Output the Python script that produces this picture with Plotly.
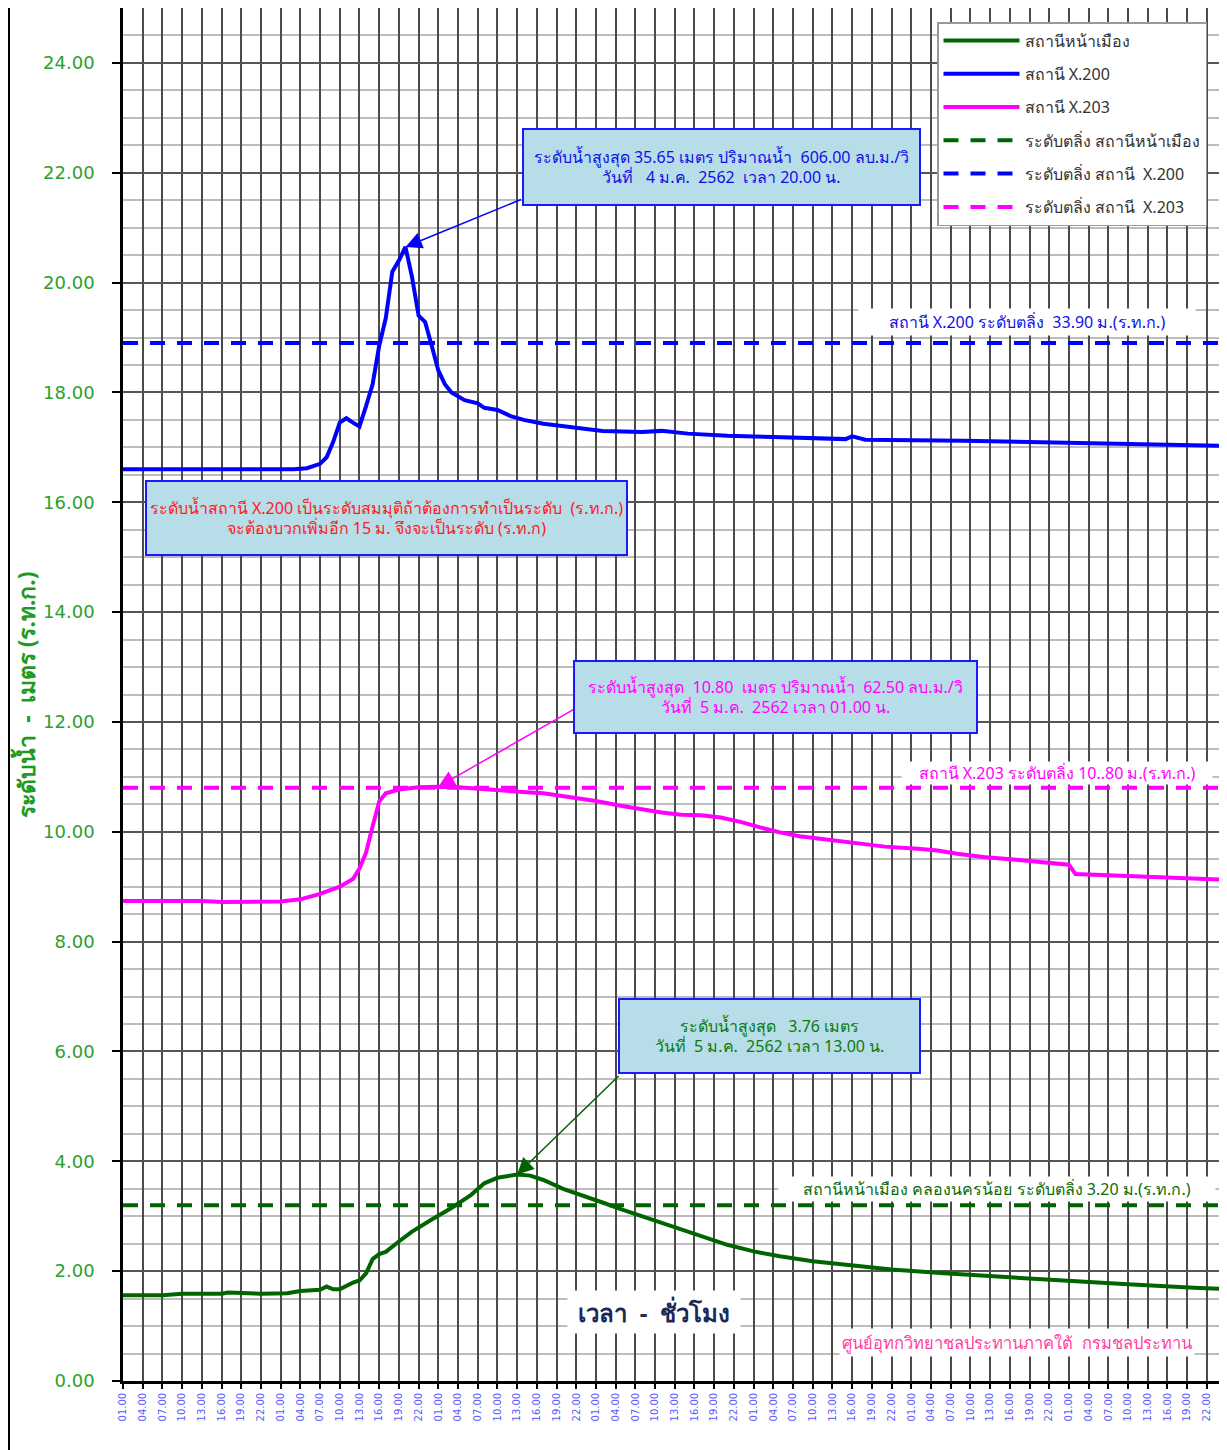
import plotly.graph_objects as go

# ---------------- data ----------------
x200_time = ["2019-01-03 01:00", "2019-01-04 03:00", "2019-01-04 05:00", "2019-01-04 07:00",
             "2019-01-04 08:00", "2019-01-04 09:00", "2019-01-04 10:00", "2019-01-04 11:00",
             "2019-01-04 12:00", "2019-01-04 13:00", "2019-01-04 14:00", "2019-01-04 15:00",
             "2019-01-04 16:00", "2019-01-04 17:00", "2019-01-04 18:00", "2019-01-04 19:00",
             "2019-01-04 20:00", "2019-01-04 21:00", "2019-01-04 22:00", "2019-01-04 23:00",
             "2019-01-05 00:00", "2019-01-05 01:00", "2019-01-05 02:00", "2019-01-05 03:00",
             "2019-01-05 05:00", "2019-01-05 07:00", "2019-01-05 08:00", "2019-01-05 10:00",
             "2019-01-05 12:00", "2019-01-05 14:00", "2019-01-05 17:00", "2019-01-05 21:00",
             "2019-01-06 02:00", "2019-01-06 08:00", "2019-01-06 11:00", "2019-01-06 15:00",
             "2019-01-06 21:00", "2019-01-07 04:00", "2019-01-07 12:00", "2019-01-07 15:00",
             "2019-01-07 16:00", "2019-01-07 18:00", "2019-01-08 09:00", "2019-01-08 20:00",
             "2019-01-09 10:00", "2019-01-10 00:00"]
x200_level = [16.60, 16.60, 16.62, 16.70,
              16.82, 17.10, 17.45, 17.53,
              17.45, 17.38, 17.75, 18.15,
              18.85, 19.35, 20.20, 20.40,
              20.65, 20.10, 19.40, 19.28,
              18.85, 18.40, 18.15, 18.00,
              17.86, 17.80, 17.72, 17.68,
              17.57, 17.50, 17.43, 17.37,
              17.30, 17.28, 17.30, 17.25,
              17.21, 17.19, 17.17, 17.15,
              17.20, 17.14, 17.12, 17.09,
              17.06, 17.03]

x203_time = ["2019-01-03 01:00", "2019-01-03 13:00", "2019-01-03 16:00", "2019-01-04 01:00",
             "2019-01-04 04:00", "2019-01-04 07:00", "2019-01-04 10:00", "2019-01-04 12:00",
             "2019-01-04 13:00", "2019-01-04 14:00", "2019-01-04 15:00", "2019-01-04 16:00",
             "2019-01-04 17:00", "2019-01-04 19:00", "2019-01-04 22:00", "2019-01-05 01:00",
             "2019-01-05 04:00", "2019-01-05 07:00", "2019-01-05 12:00", "2019-01-05 17:00",
             "2019-01-05 22:00", "2019-01-06 01:00", "2019-01-06 05:00", "2019-01-06 08:00",
             "2019-01-06 11:00", "2019-01-06 14:00", "2019-01-06 17:00", "2019-01-06 20:00",
             "2019-01-06 23:00", "2019-01-07 02:00", "2019-01-07 05:00", "2019-01-07 08:00",
             "2019-01-07 13:00", "2019-01-07 18:00", "2019-01-07 21:00", "2019-01-08 02:00",
             "2019-01-08 05:00", "2019-01-08 08:00", "2019-01-08 12:00", "2019-01-08 17:00",
             "2019-01-08 21:00", "2019-01-09 01:00", "2019-01-09 02:00", "2019-01-09 06:00",
             "2019-01-09 14:00", "2019-01-10 00:00"]
x203_level = [8.74, 8.74, 8.72, 8.73,
              8.77, 8.87, 9.00, 9.14,
              9.33, 9.62, 10.10, 10.55,
              10.70, 10.77, 10.81, 10.82,
              10.81, 10.79, 10.74, 10.70,
              10.62, 10.56, 10.47, 10.41,
              10.35, 10.31, 10.30, 10.26,
              10.18, 10.08, 9.99, 9.92,
              9.85, 9.78, 9.73, 9.69,
              9.66, 9.60, 9.54, 9.49,
              9.45, 9.40, 9.23, 9.21,
              9.17, 9.13]

nm_time = ["2019-01-03 01:00", "2019-01-03 07:00", "2019-01-03 10:00", "2019-01-03 16:00",
           "2019-01-03 17:00", "2019-01-03 22:00", "2019-01-04 02:00", "2019-01-04 04:00",
           "2019-01-04 07:00", "2019-01-04 08:00", "2019-01-04 09:00", "2019-01-04 10:00",
           "2019-01-04 12:00", "2019-01-04 13:00", "2019-01-04 14:00", "2019-01-04 15:00",
           "2019-01-04 16:00", "2019-01-04 17:00", "2019-01-04 19:00", "2019-01-04 21:00",
           "2019-01-05 00:00", "2019-01-05 03:00", "2019-01-05 06:00", "2019-01-05 08:00",
           "2019-01-05 10:00", "2019-01-05 13:00", "2019-01-05 15:00", "2019-01-05 17:00",
           "2019-01-05 20:00", "2019-01-05 23:00", "2019-01-06 02:00", "2019-01-06 05:00",
           "2019-01-06 09:00", "2019-01-06 13:00", "2019-01-06 17:00", "2019-01-06 21:00",
           "2019-01-07 01:00", "2019-01-07 05:00", "2019-01-07 10:00", "2019-01-07 16:00",
           "2019-01-07 22:00", "2019-01-08 06:00", "2019-01-08 15:00", "2019-01-09 00:00",
           "2019-01-09 10:00", "2019-01-09 20:00", "2019-01-10 00:00"]
nm_level = [1.56, 1.56, 1.59, 1.59,
            1.61, 1.59, 1.60, 1.64,
            1.66, 1.72, 1.67, 1.67,
            1.79, 1.83, 1.96, 2.22,
            2.31, 2.35, 2.54, 2.72,
            2.94, 3.15, 3.39, 3.60,
            3.70, 3.76, 3.74, 3.66,
            3.50, 3.38, 3.25, 3.12,
            2.96, 2.80, 2.63, 2.48,
            2.36, 2.27, 2.18, 2.10,
            2.03, 1.96, 1.89, 1.82,
            1.76, 1.70, 1.68]

bank_levels = {"nm": 3.20, "x200": 18.90, "x203": 10.80}
x_range = ["2019-01-03 01:00", "2019-01-10 00:00"]
series_names = ["สถานีหน้าเมือง", "สถานี X.200", "สถานี X.203",
                "ระดับตลิ่ง สถานีหน้าเมือง", "ระดับตลิ่ง สถานี  X.200", "ระดับตลิ่ง สถานี  X.203"]

peak_x200 = ("2019-01-04 20:00", 20.65)
peak_x203 = ("2019-01-05 01:00", 10.82)
peak_nm = ("2019-01-05 13:00", 3.76)

# ---------------- styling ----------------
GREEN = "#006400"
BLUE = "#0000ff"
MAGENTA = "#ff00ff"
FONT = "Tahoma, 'Noto Sans', 'DejaVu Sans', sans-serif"

fig = go.Figure()

lines = [
    (nm_time, nm_level, GREEN, series_names[0]),
    (x200_time, x200_level, BLUE, series_names[1]),
    (x203_time, x203_level, MAGENTA, series_names[2]),
]
for i, (t, v, c, n) in enumerate(lines):
    fig.add_trace(go.Scatter(x=t, y=v, mode="lines", name=n, legendgroup=f"g{i}",
                             line=dict(color=c, width=4), hoverinfo="x+y"))

for i, (key, c, n) in enumerate([("nm", GREEN, series_names[3]),
                                  ("x200", BLUE, series_names[4]),
                                  ("x203", MAGENTA, series_names[5])]):
    fig.add_trace(go.Scatter(x=x_range, y=[bank_levels[key]] * 2, mode="lines", name=n,
                             legendgroup=f"b{i}",
                             line=dict(color=c, width=4, dash="15px,12px")))

# page is offset by the browser's 8px body margin; plot area in page pixels:
W, H = 1227, 1450
OFF = 8
PL, PR, PT, PB = 123, 1220, 8, 1381          # plot area edges on the page
PW, PH = PR - PL, PB - PT


def px(x):
    return (x - PL) / PW


def py(y):
    return (PB - y) / PH


fig.update_layout(
    width=W, height=H,
    margin=dict(l=PL - OFF, r=W + OFF - PR, t=PT - OFF, b=H + OFF - PB, autoexpand=False),
    paper_bgcolor="white", plot_bgcolor="white",
    font=dict(family=FONT, size=15, color="#222"),
    showlegend=True,
    legend=dict(x=px(937), y=py(22), xanchor="left", yanchor="top",
                bgcolor="white", bordercolor="#999", borderwidth=1.5,
                font=dict(size=16, color="#333"), tracegroupgap=9.5,
                itemwidth=76),
)

fig.update_xaxes(
    type="date", range=x_range, tick0="2019-01-03 01:00", dtick=3 * 3600 * 1000,
    tickformat="%H.%M", tickangle=-90,
    tickfont=dict(size=10, color="#5a5aff", family="'DejaVu Sans', sans-serif"),
    ticks="outside", ticklen=5, tickwidth=2, tickcolor="black",
    showgrid=True, gridcolor="#4a4a4a", gridwidth=1.5,
    showline=True, linecolor="black", linewidth=2.5, mirror=True,
    zeroline=False,
)
fig.update_yaxes(
    range=[0, 25], dtick=2, tick0=0, tickformat=".2f",
    tickfont=dict(size=18, color="#2ca02c", family="'DejaVu Sans', sans-serif"),
    ticks="outside", ticklen=8, tickwidth=2, tickcolor="black", ticklabelstandoff=14,
    showgrid=True, gridcolor="#555555", gridwidth=1.8,
    minor=dict(dtick=0.5, showgrid=True, gridcolor="#bdbdbd", gridwidth=1.5,
               ticks="inside", ticklen=0),
    showline=True, linecolor="black", linewidth=2.5, mirror=True,
    zeroline=False,
    title=dict(text="<b>ระดับน้ำ  -  เมตร (ร.ท.ก.)</b>", standoff=2,
               font=dict(size=23, color="#1e9a1e", family=FONT)),
)

# outer frame line on the left
fig.add_shape(type="line", xref="paper", yref="paper", x0=px(OFF + 1), x1=px(OFF + 1),
              y0=py(0), y1=py(H + OFF), line=dict(color="black", width=2))

BOXBG = "#b7dde8"


def box(text, cx, cy, w, h, color):
    fig.add_annotation(xref="paper", yref="paper", x=px(cx), y=py(cy), text=text,
                       showarrow=False, width=w, height=h, bgcolor=BOXBG,
                       bordercolor="#1a1aff", borderwidth=2, borderpad=0,
                       font=dict(size=16, color=color, family=FONT), align="center",
                       xanchor="center", yanchor="middle")


def arrow(pt, ax, ay, color):
    fig.add_annotation(x=pt[0], y=pt[1], xref="x", yref="y", text="", showarrow=True,
                       ax=ax, ay=ay, axref="pixel", ayref="pixel",
                       arrowhead=2, arrowsize=2.2, arrowwidth=1.5, arrowcolor=color,
                       standoff=0)


arrow(peak_x200, 117, -48, BLUE)
arrow(peak_x203, 140, -80, MAGENTA)
arrow(peak_nm, 103, -100, GREEN)

box("ระดับน้ำสูงสุด 35.65 เมตร ปริมาณน้ำ  606.00 ลบ.ม./วิ<br>วันที่   4 ม.ค.  2562  เวลา 20.00 น.",
    721.5, 167, 395, 74, "#1010e6")
box("ระดับน้ำสถานี X.200 เป็นระดับสมมุติถ้าต้องการทำเป็นระดับ  (ร.ท.ก.)<br>จะต้องบวกเพิ่มอีก 15 ม. จึงจะเป็นระดับ (ร.ท.ก)",
    386.5, 518, 479, 72, "#ff1a1a")
box("ระดับน้ำสูงสุด  10.80  เมตร ปริมาณน้ำ  62.50 ลบ.ม./วิ<br>วันที่  5 ม.ค.  2562 เวลา 01.00 น.",
    775.5, 697, 401, 70, "#ff00ff")
box("ระดับน้ำสูงสุด   3.76 เมตร<br>วันที่  5 ม.ค.  2562 เวลา 13.00 น.",
    769.5, 1036, 299, 72, "#0b7a0b")


def label(text, cx, cy, color, size=16, bold=False, w=None, h=None, pad=0):
    fig.add_annotation(xref="paper", yref="paper", x=px(cx), y=py(cy),
                       text=f"<b>{text}</b>" if bold else text,
                       showarrow=False, bgcolor="white", borderpad=pad, width=w, height=h,
                       font=dict(size=size, color=color, family=FONT),
                       xanchor="center", yanchor="middle")


label("สถานี X.200 ระดับตลิ่ง  33.90 ม.(ร.ท.ก.)", 1027, 322, "#1010e6", w=336, h=26)
label("สถานี X.203 ระดับตลิ่ง 10..80 ม.(ร.ท.ก.)", 1057, 773, "#ff00ff", w=310, h=22)
label("สถานีหน้าเมือง คลองนครน้อย ระดับตลิ่ง 3.20 ม.(ร.ท.ก.)", 997, 1189, "#0b6b0b", w=436, h=24)
label("เวลา  -  ชั่วโมง", 654, 1312, "#1b2a55", size=24, bold=True, w=172, h=42)
label("ศูนย์อุทกวิทยาชลประทานภาคใต้  กรมชลประทาน", 1017, 1342, "#ff3fa0", size=16.5, pad=2)

fig.write_html("out.html")
